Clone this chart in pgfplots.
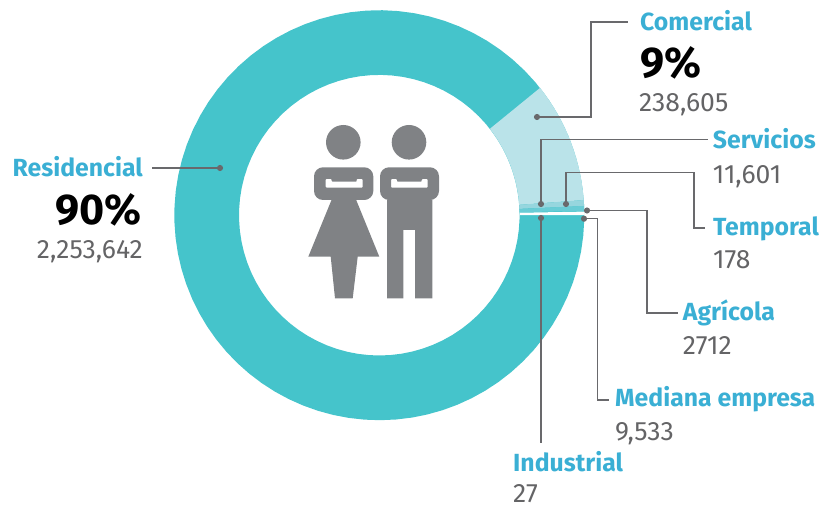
\documentclass[border=0pt]{standalone}
\usepackage{pgfplots}
\pgfplotsset{compat=1.18}
\usepackage{fontspec}
\setmainfont{Fira Sans}
\definecolor{ringdark}{RGB}{69,196,203}
\definecolor{ringlight}{RGB}{186,227,233}
\definecolor{ringmid}{RGB}{150,214,222}
\definecolor{ringdeep}{RGB}{105,204,213}
\definecolor{labelblue}{RGB}{58,175,212}
\definecolor{numgray}{RGB}{100,100,102}
\definecolor{leader}{RGB}{105,105,108}
\definecolor{icongray}{RGB}{128,130,133}

% Customers per tariff class, in the clockwise order of the ring
\def\vRes{2253642}
\def\vCom{238605}
\def\vSer{11601}
\def\vMed{9533}
\def\vAgr{2712}
\def\vTem{178}
\def\vInd{27}
\edef\vSum{\fpeval{\vRes+\vCom+\vSer+\vMed+\vAgr+\vTem+\vInd}}
% Wedge boundaries in degrees, running clockwise from the right-hand side
\def\aStart{0.8}
\edef\aRes{\fpeval{round(\aStart-\vRes/\vSum*360+360,4)}}
\edef\aCom{\fpeval{round(\aRes-\vCom/\vSum*360,4)}}
\edef\aSer{\fpeval{round(\aCom-\vSer/\vSum*360,4)}}
\edef\aMed{\fpeval{round(\aSer-\vMed/\vSum*360,4)}}
\edef\aAgr{\fpeval{round(\aMed-\vAgr/\vSum*360,4)}}
\edef\aEnd{\fpeval{\aStart-360}}

\def\cx{379.3}
\def\cy{290.8}
\def\Ro{205}
\def\Ri{140.3}

% One ring sector between two angles
\newcommand\ringwedge[3]{%
  \addplot[fill=#3,draw=none,forget plot,domain=0:1,samples=181,variable=\t]
  ({\cx+(\t<0.5?\Ro:\Ri)*cos(\t<0.5?#1+(#2-#1)*2*\t:#2+(#1-#2)*(2*\t-1))},
   {\cy+(\t<0.5?\Ro:\Ri)*sin(\t<0.5?#1+(#2-#1)*2*\t:#2+(#1-#2)*(2*\t-1))});
}
% One leader line, with its dot on the first vertex
\newcommand\leaderline[1]{%
  \addplot[leader,line width=1.25pt,forget plot,mark=*,mark indices={1},
    mark options={fill=leader,draw=leader,mark size=2.4pt}] coordinates {#1};
}
% Label styles
\newcommand\lab[4]{\node[anchor=#1,inner sep=0pt,font=\fontsize{24.8}{25}\selectfont\bfseries,text=labelblue] at (axis cs:#2,#3) {#4};}
\newcommand\val[4]{\node[anchor=#1,inner sep=0pt,font=\fontsize{26.5}{27}\selectfont,text=numgray] at (axis cs:#2,#3) {#4};}
\newcommand\pct[4]{\node[anchor=#1,inner sep=0pt,font=\fontsize{43}{44}\selectfont\bfseries,text=black] at (axis cs:#2,#3) {#4};}

\begin{document}
\begin{tikzpicture}[x=1pt,y=1pt]
\useasboundingbox (0,0) rectangle (838,506);
\begin{axis}[at={(0,0)},anchor=south west,scale only axis,width=838pt,height=506pt,
  xmin=0,xmax=838,ymin=0,ymax=506,hide axis,clip=false]
\ringwedge{\aRes}{\aEnd}{ringdark}
\ringwedge{\aCom}{\aRes}{ringlight}
\ringwedge{\aSer}{\aCom}{ringmid}
\ringwedge{\aMed}{\aSer}{ringdeep}
% White separator over the smallest classes
\ringwedge{1.0}{0}{white}

% Pictogram of a woman and a man
\fill[icongray] (axis cs:343.3,363.7) circle[radius=17.3pt];
\fill[icongray] (axis cs:409,363.7) circle[radius=17.3pt];
\fill[icongray,even odd rule]
  [rounded corners=9pt] (axis cs:314,338.7) rectangle (axis cs:373.3,306)
  [rounded corners=0.8pt] (axis cs:325.7,318.3) -- (axis cs:325.7,327) -- (axis cs:331.7,327)
  -- (axis cs:331.7,324.3) -- (axis cs:356.7,324.3) -- (axis cs:356.7,327)
  -- (axis cs:362.7,327) -- (axis cs:362.7,318.3) -- cycle;
\fill[icongray] (axis cs:331.7,306.5) -- (axis cs:308.3,249.3) -- (axis cs:330.7,249.3)
  -- (axis cs:335,207.7) -- (axis cs:352.7,207.7) -- (axis cs:357.7,249.3)
  -- (axis cs:379.3,249.3) -- (axis cs:356,306.5) -- cycle;
\fill[icongray,even odd rule]
  [rounded corners=9pt] (axis cs:380,338.7) rectangle (axis cs:439,306)
  [rounded corners=0.8pt] (axis cs:391,318.3) -- (axis cs:391,327) -- (axis cs:397,327)
  -- (axis cs:397,324.3) -- (axis cs:421.7,324.3) -- (axis cs:421.7,327)
  -- (axis cs:427.7,327) -- (axis cs:427.7,318.3) -- cycle;
\fill[icongray] (axis cs:387,306.5) -- (axis cs:387,207.7) -- (axis cs:403.3,207.7)
  -- (axis cs:403.3,276) -- (axis cs:415,276) -- (axis cs:415,207.7)
  -- (axis cs:432.3,207.7) -- (axis cs:432.3,306.5) -- cycle;

% Leaders from each wedge to its label
\leaderline{(220,338) (152,338)}
\leaderline{(537,389) (591,389) (591,484) (628,484)}
\leaderline{(541,302) (541,366.7) (708,366.7)}
\leaderline{(566,302) (566,333.5) (694,333.5) (694,278) (705,278)}
\leaderline{(587,295.5) (647,295.5) (647,193) (678,193)}
\leaderline{(584,287.3) (597.5,287.3) (597.5,106) (609,106)}
\leaderline{(541,288) (541,63)}

% Labels
\lab{base east}{143}{329}{Residencial}
\pct{base east}{142}{281}{90\%}
\val{base east}{143}{247}{2,253,642}
\lab{base west}{640}{475}{Comercial}
\pct{base west}{640}{428}{9\%}
\val{base west}{639}{394}{238,605}
\lab{base west}{712.7}{357}{Servicios}
\val{base west}{712.7}{322}{11,601}
\lab{base west}{713}{270}{Temporal}
\val{base west}{713}{237}{178}
\lab{base west}{682.7}{185}{Agrícola}
\val{base west}{682.7}{151}{2712}
\lab{base west}{615}{99}{Mediana empresa}
\val{base west}{615}{65}{9,533}
\lab{base west}{513}{34}{Industrial}
\val{base west}{513}{3}{27}
\end{axis}
\end{tikzpicture}
\end{document}
